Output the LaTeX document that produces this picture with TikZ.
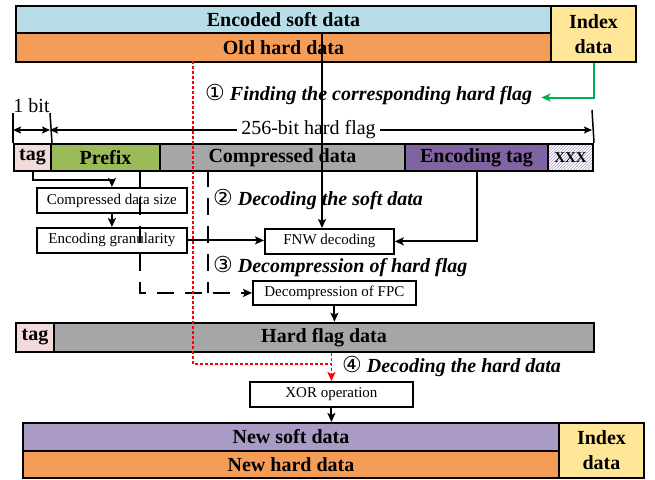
\documentclass[tikz,border=0pt]{standalone}
\usepackage{fontspec}
\setmainfont{Liberation Serif}
\newfontfamily\circfont{DejaVu Sans}
\usetikzlibrary{arrows.meta,patterns,calc}
\definecolor{softblue}{HTML}{B7DEE8}
\definecolor{hardorange}{HTML}{F59D56}
\definecolor{idxyellow}{HTML}{FFE699}
\definecolor{tagpink}{HTML}{F2DCDB}
\definecolor{prefgreen}{HTML}{9BBB59}
\definecolor{compgray}{HTML}{A6A6A6}
\definecolor{encpurple}{HTML}{8064A2}
\definecolor{lavender}{HTML}{A99BC3}
\definecolor{arrowgreen}{HTML}{00B050}
\newcommand{\stepnum}[1]{{\circfont\mdseries\upshape\fontsize{22}{22}\selectfont #1}}
\begin{document}
\begin{tikzpicture}[x=1pt,y=-1pt,
  bar/.style={draw, line width=2pt, anchor=north west, inner sep=0pt,
    font=\bfseries\fontsize{20}{25}\selectfont, align=center},
  proc/.style={draw, line width=1.8pt, fill=white, anchor=north west, inner sep=0pt,
    font=\fontsize{15}{18}\selectfont},
  tip/.style={-{Stealth[length=9pt,width=8pt,inset=2pt]}},
  dimboth/.style={{Stealth[length=8pt,width=7pt,inset=1.5pt]}-{Stealth[length=8pt,width=7pt,inset=1.5pt]}},
  dimstart/.style={{Stealth[length=8pt,width=7pt,inset=1.5pt]}-},
  dimend/.style={-{Stealth[length=8pt,width=7pt,inset=1.5pt]}},
  conn/.style={line width=2pt},
  dashln/.style={line width=2.2pt, dash pattern=on 17pt off 11pt},
  reddot/.style={red, line width=1.6pt, dash pattern=on 3pt off 2pt},
  steplabel/.style={anchor=west, inner sep=3pt, font=\bfseries\itshape\fontsize{20}{24}\selectfont},
  dimtext/.style={inner sep=4pt, font=\fontsize{20}{24}\selectfont}
]
\useasboundingbox (0,0) rectangle (655,479);

% stored line: soft data, hard data and index
\node[bar, fill=softblue, minimum width=535pt, minimum height=27pt] (soft) at (15,5) {Encoded soft data};
\node[bar, fill=hardorange, minimum width=535pt, minimum height=29pt] (old) at (15,32) {Old hard data};
\node[bar, fill=idxyellow, minimum width=85pt, minimum height=56pt] (idx) at (550,5) {Index\\data};

% step 1
\node[steplabel] (s1) at (202,95) {\stepnum{①} Finding the corresponding hard flag};
\draw[conn, tip, arrowgreen] (idx.south) |- ($(s1.east)+(6,2.5)$);

% 256-bit hard flag layout
\node[bar, fill=tagpink, minimum width=37pt, minimum height=27pt] (tag) at (13,143) {tag};
\node[bar, fill=prefgreen, minimum width=109pt, minimum height=27pt] (prefix) at (50,143) {Prefix};
\node[bar, fill=compgray, minimum width=245pt, minimum height=27pt] (comp) at (159,143) {Compressed data};
\node[bar, fill=encpurple, minimum width=143pt, minimum height=27pt] (enc) at (404,143) {Encoding tag};
\node[bar, pattern=north east lines, pattern color=lavender, minimum width=45pt, minimum height=27pt,
  font=\bfseries\fontsize{15}{16}\selectfont] (xxx) at (547,143) {XXX};

% dimension marks
\coordinate (d0) at (13,113);
\coordinate (d1) at (50,113);
\coordinate (d2) at (592,110);
\draw[line width=1.5pt] (d0) -- (tag.south west |- tag.north);
\draw[line width=1.5pt] (d1) -- (tag.north east);
\draw[line width=1.5pt] (d2) -- (xxx.north east);
\node[dimtext] (onebit) at (31.5,106) {1 bit};
\node[dimtext] (hflen) at (308.5,130) {256-bit hard flag};
\draw[line width=1.3pt, dimboth] (d0 |- hflen) -- (d1 |- hflen);
\draw[line width=1.3pt, dimstart] (d1 |- hflen) -- (hflen.west);
\draw[line width=1.3pt, dimend] (hflen.east) -- (d2 |- hflen);

% decoding boxes
\node[proc, minimum width=150pt, minimum height=25pt] (cds) at (36,187) {Compressed data size};
\node[proc, minimum width=150pt, minimum height=25pt] (eg) at (36,227) {Encoding granularity};
\node[proc, minimum width=129pt, minimum height=25pt] (fnw) at (264,228) {FNW decoding};
\node[proc, minimum width=163pt, minimum height=24pt] (fpc) at (252,280) {Decompression of FPC};

\node[steplabel] (s2) at (210,200) {\stepnum{②} Decoding the soft data};
\node[steplabel] (s3) at (210,267) {\stepnum{③} Decompression of hard flag};

% hard flag data line
\node[bar, fill=tagpink, minimum width=38pt, minimum height=29pt] (tag2) at (15,321.7) {tag};
\node[bar, fill=compgray, minimum width=540pt, minimum height=29pt] (hfd) at (53,321.7) {Hard flag data};

\node[steplabel] (s4) at (339,367) {\stepnum{④} Decoding the hard data};
\node[proc, minimum width=163pt, minimum height=25pt] (xor) at (249,381) {XOR operation};

% new line
\node[bar, fill=lavender, minimum width=536pt, minimum height=28pt] (nsoft) at (22,422) {New soft data};
\node[bar, fill=hardorange, minimum width=536pt, minimum height=27pt] (nhard) at (22,450) {New hard data};
\node[bar, fill=idxyellow, minimum width=85pt, minimum height=55pt] (nidx) at (558,422) {Index\\data};

% connectors
\coordinate (sv) at (322,32);
\draw[conn, tip] (sv) -- (sv |- fnw.north);
\draw[conn, tip] (tag.south) -- ++(0,8) -| (cds.north);
\draw[conn, tip] (cds.south) -- (eg.north);
\draw[conn, tip] (eg.east) -- (eg.east -| fnw.west);
\draw[conn, tip] (enc.south) |- (fnw.east);
\coordinate (pv) at (140,170);
\coordinate (cv) at (208,170);
\draw[dashln, tip] (pv) |- (fpc.west);
\draw[dashln] (cv) -- (cv |- fpc.west);
\draw[conn, tip] (fpc.south) -- (fpc.south |- hfd.north);
\coordinate (rv) at (193,61);
\draw[reddot] (rv) |- (xor.north |- 0,364);
\draw[reddot, tip] (xor.north |- hfd.south) -- (xor.north);
\draw[conn, tip] (xor.south) -- (xor.south |- nsoft.north);
\end{tikzpicture}
\end{document}
